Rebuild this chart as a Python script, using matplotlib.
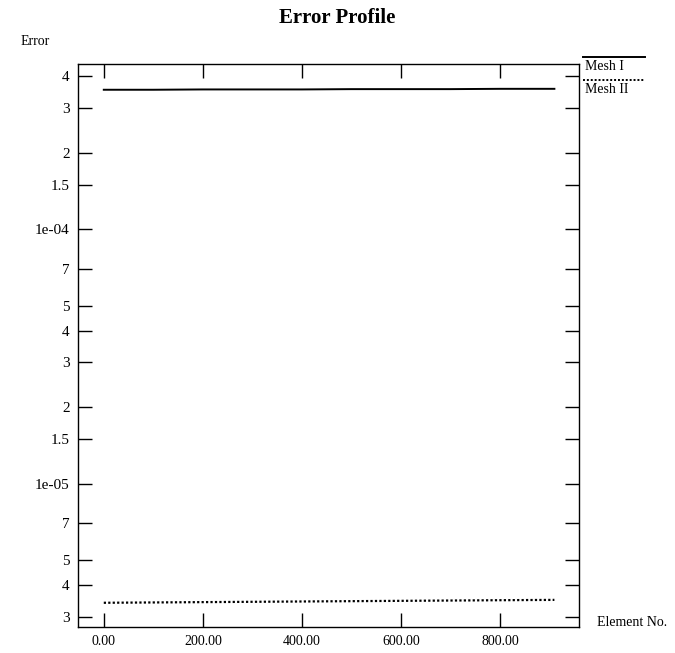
import matplotlib
matplotlib.use("Agg")
import matplotlib.pyplot as plt
from matplotlib.lines import Line2D
from matplotlib.ticker import FixedLocator, FixedFormatter, FormatStrFormatter, NullLocator

# element numbers along the mesh
elements = [0, 100, 200, 300, 400, 500, 600, 700, 800, 910]
# error per element
mesh1_err = [3.54e-4, 3.54e-4, 3.55e-4, 3.55e-4, 3.55e-4, 3.56e-4, 3.56e-4, 3.56e-4, 3.57e-4, 3.57e-4]
mesh2_err = [3.40e-6, 3.41e-6, 3.42e-6, 3.43e-6, 3.44e-6, 3.45e-6, 3.46e-6, 3.47e-6, 3.48e-6, 3.49e-6]

series_names = ["Mesh I", "Mesh II"]
x_ticks = [0, 200, 400, 600, 800]
y_ticks = [3e-6, 4e-6, 5e-6, 7e-6, 1e-5, 1.5e-5, 2e-5, 3e-5, 4e-5, 5e-5, 7e-5,
           1e-4, 1.5e-4, 2e-4, 3e-4, 4e-4]
y_labels = ["3", "4", "5", "7", "1e-05", "1.5", "2", "3", "4", "5", "7",
            "1e-04", "1.5", "2", "3", "4"]

plt.rcParams['font.family'] = ['Liberation Serif', 'DejaVu Serif']

fig = plt.figure(figsize=(6.75, 6.53), dpi=100)
ax = fig.add_axes([0.1156, 0.0398, 0.7424, 0.8622])

ax.plot(elements, mesh1_err, color='black', lw=1.4, ls='-')
ax.plot(elements, mesh2_err, color='black', lw=1.6, ls=(0, (1, 1)))

ax.set_yscale('log')
ax.set_xlim(-52, 960)
ax.set_ylim(2.73e-6, 4.47e-4)

ax.yaxis.set_major_locator(FixedLocator(y_ticks))
ax.yaxis.set_major_formatter(FixedFormatter(y_labels))
ax.yaxis.set_minor_locator(NullLocator())
ax.xaxis.set_major_locator(FixedLocator(x_ticks))
ax.xaxis.set_major_formatter(FormatStrFormatter('%.2f'))

ax.tick_params(axis='y', direction='in', length=10, width=1, left=True, right=True,
               labelsize=11, pad=6)
ax.tick_params(axis='x', direction='in', length=10, width=1, top=True, bottom=True,
               labelsize=10, pad=6)
for s in ax.spines.values():
    s.set_linewidth(1.0)

fig.text(0.5, 0.972, "Error Profile", ha='center', va='center',
         fontsize=15, fontweight='bold')
fig.text(0.030, 0.936, "Error", ha='left', va='center', fontsize=10)
fig.text(0.885, 0.046, "Element No.", ha='left', va='center', fontsize=10)

# legend drawn outside the axes: sample line above each name
styles = ['-', (0, (1, 1))]
for i, (name, st) in enumerate(zip(series_names, styles)):
    yl = 1 - (57 + 23 * i) / 653
    fig.add_artist(Line2D([583 / 675, 645 / 675], [yl, yl], color='black',
                          lw=1.4, ls=st, transform=fig.transFigure))
    fig.text(585 / 675, yl - 9.5 / 653, name, ha='left', va='center', fontsize=10)

fig.savefig("out.png", dpi=100)
